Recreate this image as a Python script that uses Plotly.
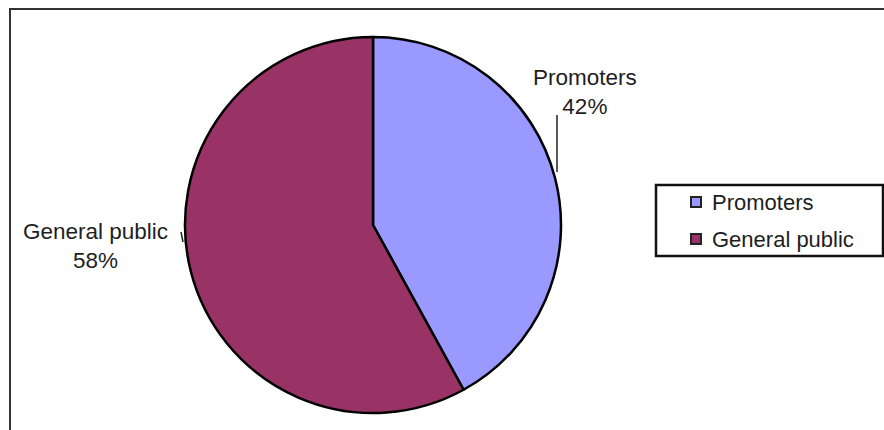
import plotly.graph_objects as go

# Shareholding split
labels = ["Promoters", "General public"]
shares = [42, 58]
colors = ["#9999FF", "#993366"]

W, H = 884, 430


def px(x):
    return x / W


def py(y):
    return 1 - y / H


FONT = "Liberation Sans, Arial, sans-serif"
TEXT_COLOR = "#1e1e1e"

fig = go.Figure(
    go.Pie(
        labels=labels,
        values=shares,
        sort=False,
        direction="clockwise",
        rotation=0,
        marker=dict(colors=colors, line=dict(color="#000000", width=2.5)),
        textinfo="none",
        hoverinfo="label+percent",
        showlegend=False,
        domain=dict(x=[px(185), px(561)], y=[py(413), py(37)]),
    )
)

shapes = []
annotations = []

# Outer chart frame
shapes.append(dict(type="rect", xref="paper", yref="paper",
                   x0=px(10), x1=px(900), y0=py(445), y1=py(9),
                   line=dict(color="#333333", width=2)))

# Data labels with leader lines
total = sum(shares)
pct = [round(v * 100 / total) for v in shares]
label_pos = [(585, 92), (95, 246)]
for name, p, (lx, ly) in zip(labels, pct, label_pos):
    annotations.append(dict(
        x=px(lx), y=py(ly), xref="paper", yref="paper",
        text=f"{name}<br>{p}%", showarrow=False,
        font=dict(family=FONT, size=22.5, color=TEXT_COLOR),
        align="center", xanchor="center", yanchor="middle",
    ))

shapes.append(dict(type="line", xref="paper", yref="paper",
                   x0=px(557), x1=px(557), y0=py(115), y1=py(172),
                   line=dict(color="#222222", width=1.5)))
shapes.append(dict(type="line", xref="paper", yref="paper",
                   x0=px(181), x1=px(183), y0=py(232), y1=py(242),
                   line=dict(color="#222222", width=1.5)))

# Legend box
shapes.append(dict(type="rect", xref="paper", yref="paper",
                   x0=px(656), x1=px(883), y0=py(256), y1=py(185),
                   line=dict(color="#111111", width=2.5),
                   fillcolor="#ffffff"))
legend_rows = [202, 239]
for name, col, ry in zip(labels, colors, legend_rows):
    shapes.append(dict(type="rect", xref="paper", yref="paper",
                       x0=px(691), x1=px(701), y0=py(ry + 5), y1=py(ry - 5),
                       line=dict(color="#222222", width=2),
                       fillcolor=col))
    annotations.append(dict(
        x=px(710), y=py(ry), xref="paper", yref="paper",
        text=name, showarrow=False,
        font=dict(family=FONT, size=22, color=TEXT_COLOR),
        xanchor="left", yanchor="middle",
    ))

fig.update_layout(
    width=W, height=H,
    margin=dict(l=0, r=0, t=0, b=0),
    paper_bgcolor="#ffffff",
    plot_bgcolor="#ffffff",
    shapes=shapes,
    annotations=annotations,
    showlegend=False,
)

fig.write_html("out.html")
